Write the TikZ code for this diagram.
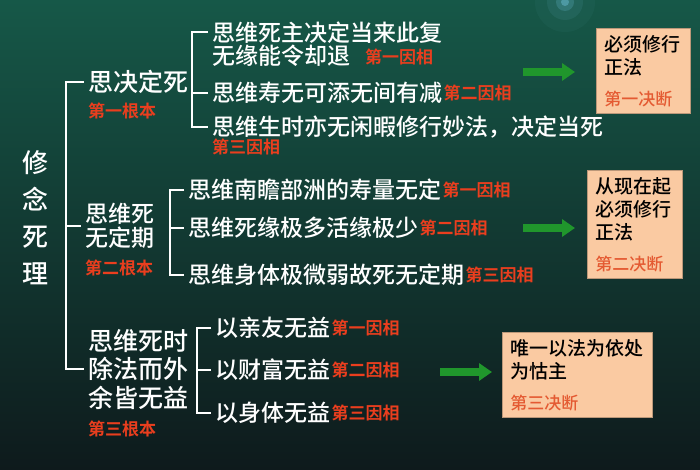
\documentclass[tikz,border=0pt]{standalone}
\usepackage{fontspec}
\setmainfont{Noto Sans CJK SC Medium}[BoldFont={Noto Sans CJK SC Bold}]
\usetikzlibrary{positioning,arrows.meta,calc}
\definecolor{bgtop}{RGB}{22,88,72}
\definecolor{bgbot}{RGB}{14,26,28}
\definecolor{tagred}{RGB}{234,62,30}
\definecolor{boxfill}{RGB}{250,202,162}
\definecolor{boxred}{RGB}{228,90,50}
\definecolor{arrowgreen}{RGB}{32,150,44}
\tikzset{
	txt/.style={text=white, anchor=west, inner xsep=4pt, inner ysep=0pt, align=left, font=\fontsize{23}{23.5}\selectfont},
	big/.style={txt, font=\fontsize{25}{28.5}\selectfont},
	tag/.style={text=tagred, anchor=west, inner sep=0pt, font=\bfseries\fontsize{17}{17}\selectfont},
	brk/.style={white, line width=2.2pt},
	box/.style={fill=boxfill, draw=boxfill!75!black, line width=0.6pt, anchor=north west, align=left, inner xsep=8pt, inner ysep=0pt, text=black, font=\fontsize{19}{23}\selectfont},
	garrow/.style={arrowgreen, line width=8pt, -{Triangle[length=13pt,width=17pt]}}
}
\begin{document}
\begin{tikzpicture}[x=1pt,y=-1pt]
	\useasboundingbox (0,0) rectangle (700,470);
	%background
	\shade[top color=bgtop, bottom color=bgbot] (0,0) rectangle (700,470);
	\foreach \r/\o in {30/0.04, 18/0.08, 9/0.18, 4/0.35}
		\fill[cyan!50!white, opacity=\o] (565,2) circle (\r pt);
	
	%root
	\node[txt, font=\fontsize{26}{37}\selectfont, align=center, anchor=center] (root) at (35,218) {修\\念\\死\\理};
	
	%first level
	\node[big] (g1) at (84,82) {思决定死};
	\node[txt] (g2) at (81,226) {思维死\\无定期};
	\node[big] (g3) at (84,369) {思维死时\\除法而外\\余皆无益};
	\node[tag] (n1) at (88,111) {第一根本};
	\node[tag] (n2) at (85,268) {第二根本};
	\node[tag] (n3) at (88,429) {第三根本};
	%
	\coordinate (s0) at (66,0);
	\draw[brk] (g1.west) -| (s0 |- g3.west) -- (g3.west);
	\draw[brk] (s0 |- g2.west) -- (g2.west);
	
	%group one
	\node[txt] (a11) at (208,44) {思维死主决定当来此复\\无缘能令却退};
	\node[txt] (a12) at (208,93) {思维寿无可添无间有减};
	\node[txt] (a13) at (208,127) {思维生时亦无闲暇修行妙法，决定当死};
	\node[tag] (l11) at (365,57) {第一因相};
	\node[tag, right=-3pt of a12] (l12) {第二因相};
	\node[tag] (l13) at (212,147) {第三因相};
	%
	\coordinate (s1) at (192,0);
	\draw[brk] ([yshift=-11pt]a11.north west) -| (s1 |- a13.west) -- (a13.west);
	\draw[brk] (s1 |- a12.west) -- (a12.west);
	
	%group two
	\node[txt] (a21) at (184,190) {思维南瞻部洲的寿量无定};
	\node[txt] (a22) at (184,228) {思维死缘极多活缘极少};
	\node[txt] (a23) at (184,275) {思维身体极微弱故死无定期};
	\node[tag, right=-3pt of a21] (l21) {第一因相};
	\node[tag, right=-3pt of a22] (l22) {第二因相};
	\node[tag, right=-3pt of a23] (l23) {第三因相};
	%
	\coordinate (s2) at (170,0);
	\draw[brk] (a21.west) -| (s2 |- a23.west) -- (a23.west);
	\draw[brk] (s2 |- a22.west) -- (a22.west);
	
	%group three
	\node[txt] (a31) at (211,328) {以亲友无益};
	\node[txt] (a32) at (211,370) {以财富无益};
	\node[txt] (a33) at (211,413) {以身体无益};
	\node[tag, right=-3pt of a31] (l31) {第一因相};
	\node[tag, right=-3pt of a32] (l32) {第二因相};
	\node[tag, right=-3pt of a33] (l33) {第三因相};
	%
	\coordinate (s3) at (197,0);
	\draw[brk] (a31.west) -| (s3 |- a33.west) -- (a33.west);
	\draw[brk] (s3 |- a32.west) -- (a32.west);
	
	%decisions
	\node[box, text width=78pt, minimum height=85pt] (d1) at (596,28) {必须修行\\正法\\[8pt]{\color{boxred}\fontsize{17}{17}\selectfont 第一决断}};
	\node[box, text width=79pt, minimum height=108pt] (d2) at (587,170) {从现在起\\必须修行\\正法\\[8pt]{\color{boxred}\fontsize{17}{17}\selectfont 第二决断}};
	\node[box, text width=134pt, minimum height=85pt] (d3) at (502,332) {唯一以法为依处\\为怙主\\[8pt]{\color{boxred}\fontsize{17}{17}\selectfont 第三决断}};
	
	%arrows
	\coordinate (p1) at (523,72);
	\coordinate (p2) at (523,228);
	\coordinate (p3) at (440,372);
	\draw[garrow, shorten >=21pt] (p1) -- (p1 -| d1.west);
	\draw[garrow, shorten >=12pt] (p2) -- (p2 -| d2.west);
	\draw[garrow, shorten >=10pt] (p3) -- (p3 -| d3.west);
\end{tikzpicture}
\end{document}
